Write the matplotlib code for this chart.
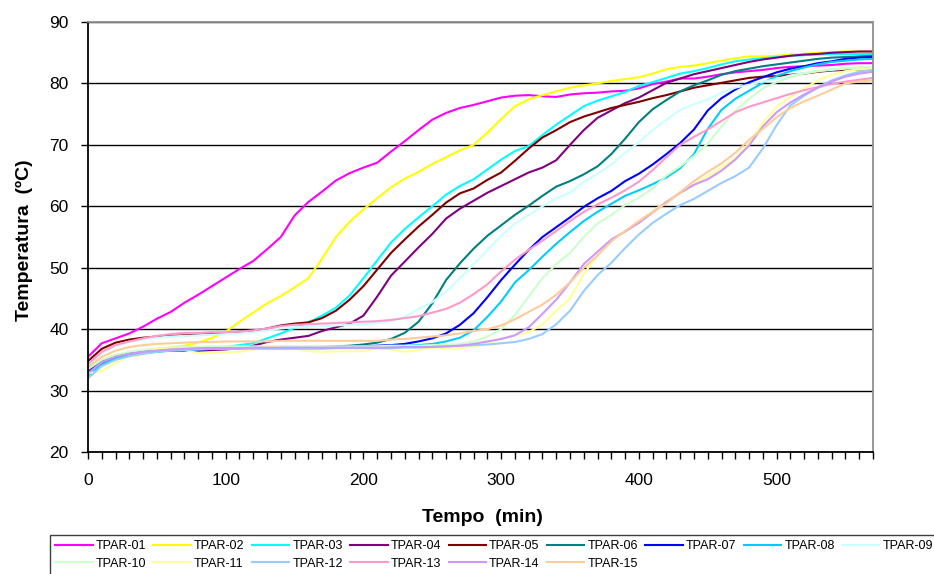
import matplotlib
matplotlib.use("Agg")
import matplotlib.pyplot as plt
from matplotlib.ticker import MultipleLocator

plt.rcParams['font.family'] = ['Liberation Sans', 'DejaVu Sans']

# Sampling times (min)
tempo = list(range(0, 571, 10))

# Temperatures (ºC) for each thermocouple, one value every 10 min
tpar01 = [35.5, 37.7, 38.5, 39.3, 40.4, 41.7, 42.8, 44.3, 45.6, 47.0,
          48.4, 49.8, 51.1, 53.0, 55.0, 58.5, 60.7, 62.4, 64.2, 65.4,
          66.3, 67.1, 68.9, 70.6, 72.4, 74.1, 75.2, 76.0, 76.5, 77.1,
          77.7, 78.0, 78.1, 77.9, 77.8, 78.2, 78.4, 78.5, 78.7, 78.8,
          79.2, 79.9, 80.3, 80.8, 80.8, 81.1, 81.5, 81.8, 82.0, 82.2,
          82.5, 82.7, 82.8, 82.9, 83.0, 83.2, 83.3, 83.3]
tpar02 = [33.5, 35.0, 35.8, 36.2, 36.5, 36.8, 37.0, 37.3, 37.8, 38.6,
          39.6, 41.2, 42.7, 44.2, 45.4, 46.8, 48.3, 51.5, 55.0, 57.5,
          59.5, 61.3, 63.1, 64.5, 65.6, 66.9, 68.0, 69.1, 70.0, 72.0,
          74.2, 76.3, 77.4, 78.1, 78.7, 79.3, 79.7, 80.0, 80.4, 80.7,
          81.0, 81.6, 82.3, 82.7, 82.9, 83.3, 83.7, 84.1, 84.4, 84.4,
          84.5, 84.7, 84.8, 85.0, 85.1, 85.2, 85.2, 85.2]
tpar03 = [32.5, 34.5, 35.5, 36.0, 36.4, 36.6, 36.7, 36.8, 36.9, 37.0,
          37.1, 37.4, 37.7, 38.5, 39.3, 40.2, 41.1, 42.2, 43.5, 45.5,
          48.3, 51.2, 54.1, 56.3, 58.2, 60.0, 61.9, 63.3, 64.4, 66.0,
          67.6, 69.0, 69.8, 71.6, 73.3, 74.8, 76.3, 77.2, 77.9, 78.6,
          79.6, 80.2, 80.9, 81.6, 82.0, 82.5, 83.1, 83.6, 83.9, 84.1,
          84.3, 84.5, 84.6, 84.7, 84.8, 84.8, 84.8, 84.8]
tpar04 = [33.2, 34.8, 35.6, 36.0, 36.3, 36.5, 36.5, 36.5, 36.5, 36.6,
          36.7, 36.9, 37.3, 37.9, 38.3, 38.6, 38.9, 39.7, 40.3, 40.9,
          42.2, 45.3, 48.7, 51.0, 53.3, 55.5, 58.0, 59.6, 60.9, 62.2,
          63.3, 64.4, 65.5, 66.3, 67.5, 70.0, 72.4, 74.4, 75.6, 76.8,
          77.7, 78.9, 80.1, 80.8, 81.5, 82.0, 82.5, 83.0, 83.5, 83.9,
          84.2, 84.5, 84.7, 84.8, 85.0, 85.1, 85.2, 85.2]
tpar05 = [34.8, 36.8, 37.8, 38.3, 38.6, 38.8, 38.9, 39.0, 39.1, 39.2,
          39.3, 39.6, 39.7, 40.1, 40.6, 40.9, 41.1, 41.8, 43.0, 44.8,
          47.0, 49.7, 52.4, 54.6, 56.7, 58.6, 60.6, 62.1, 62.9, 64.3,
          65.5, 67.4, 69.4, 71.2, 72.4, 73.7, 74.6, 75.3, 76.0, 76.5,
          77.0, 77.6, 78.1, 78.7, 79.3, 79.7, 80.1, 80.5, 80.9, 81.1,
          81.2, 81.4, 81.6, 81.9, 82.1, 82.2, 82.3, 82.3]
tpar06 = [33.0, 34.8, 35.6, 36.0, 36.3, 36.5, 36.7, 36.8, 36.9, 37.0,
          37.0, 37.0, 37.0, 37.0, 37.1, 37.1, 37.1, 37.1, 37.2, 37.3,
          37.5, 37.8, 38.4, 39.4, 41.2, 44.2, 48.0, 50.7, 53.1, 55.2,
          56.9, 58.6, 60.1, 61.7, 63.2, 64.1, 65.2, 66.5, 68.5, 71.0,
          73.7, 75.8, 77.3, 78.7, 79.7, 80.5, 81.4, 82.0, 82.4, 82.8,
          83.1, 83.4, 83.7, 84.0, 84.2, 84.3, 84.4, 84.5]
tpar07 = [33.0, 34.5, 35.4, 35.9, 36.2, 36.4, 36.5, 36.6, 36.7, 36.8,
          36.9, 36.9, 37.0, 37.0, 37.0, 37.0, 37.0, 37.0, 37.0, 37.1,
          37.2, 37.3, 37.4, 37.6, 38.0, 38.5, 39.3, 40.7, 42.6, 45.2,
          48.0, 50.5, 52.9, 55.0, 56.6, 58.2, 59.9, 61.3, 62.5, 64.1,
          65.3, 66.8, 68.5, 70.3, 72.5, 75.6, 77.6, 79.0, 80.2, 81.0,
          81.8, 82.4, 82.8, 83.3, 83.6, 84.0, 84.2, 84.3]
tpar08 = [32.2, 34.2, 35.2, 35.8, 36.1, 36.3, 36.5, 36.6, 36.7, 36.8,
          36.8, 36.9, 36.9, 37.0, 37.0, 37.0, 37.0, 37.1, 37.1, 37.1,
          37.2, 37.2, 37.3, 37.3, 37.4, 37.6, 38.0, 38.6, 39.8, 42.0,
          44.5, 47.6, 49.6, 51.8, 53.9, 55.8, 57.6, 59.1, 60.4, 61.7,
          62.6, 63.6, 64.7, 66.2, 68.5, 72.6, 75.7, 77.5, 78.8, 80.1,
          81.2, 82.0, 82.6, 83.1, 83.5, 83.7, 83.9, 84.0]
tpar09 = [34.0, 36.0, 37.2, 37.9, 38.3, 38.6, 38.8, 38.9, 39.0, 39.1,
          39.2, 39.3, 39.5, 39.8, 40.1, 40.3, 40.4, 40.5, 40.6, 40.7,
          40.8, 41.0, 41.3, 42.0, 43.3, 44.4, 46.1, 48.3, 50.6, 52.9,
          55.2, 57.2, 58.6, 60.0, 61.3, 62.2, 64.0, 65.3, 66.8, 68.7,
          70.4, 72.4, 74.1, 75.7, 76.6, 77.4, 78.5, 79.3, 79.8, 80.3,
          80.7, 81.3, 81.7, 82.0, 82.2, 82.4, 82.5, 82.6]
tpar10 = [33.5, 35.0, 35.8, 36.3, 36.6, 36.8, 37.0, 37.1, 37.1, 37.2,
          37.2, 37.2, 37.2, 37.2, 37.2, 37.2, 37.2, 37.2, 37.2, 37.2,
          37.2, 37.2, 37.3, 37.3, 37.3, 37.4, 37.4, 37.6, 38.0, 38.8,
          40.0, 42.3, 45.3, 48.3, 50.6, 52.4, 55.0, 57.2, 58.6, 60.2,
          61.4, 62.9, 65.0, 66.5, 68.2, 70.2, 73.0, 75.5, 77.5, 79.2,
          80.2, 81.0, 81.6, 82.0, 82.3, 82.5, 82.6, 82.7]
tpar11 = [32.8, 33.2, 34.5, 35.6, 35.8, 36.8, 36.9, 36.6, 36.1, 36.1,
          36.2, 36.3, 36.7, 37.2, 37.0, 36.8, 36.4, 36.3, 36.4, 36.4,
          36.4, 36.9, 36.7, 36.3, 36.6, 37.0, 36.9, 36.9, 37.2, 37.6,
          38.4, 39.0, 39.5, 40.8, 43.0, 45.0, 49.0, 52.0, 54.5, 55.9,
          57.5, 59.2, 60.8, 62.1, 63.5, 64.9, 66.3, 67.8, 70.3, 73.6,
          76.2, 77.8, 79.2, 80.5, 81.4, 82.0, 82.3, 82.4]
tpar12 = [32.0, 34.0, 35.0, 35.6, 36.0, 36.3, 36.5, 36.6, 36.7, 36.8,
          36.8, 36.8, 36.8, 36.8, 36.8, 36.8, 36.8, 36.8, 36.9, 36.9,
          36.9, 36.9, 36.9, 37.0, 37.0, 37.1, 37.2, 37.3, 37.4, 37.5,
          37.7, 37.9, 38.4, 39.2, 40.8, 43.0, 46.2, 48.8, 50.8, 53.2,
          55.4, 57.3, 58.8, 60.2, 61.2, 62.5, 63.8, 64.9, 66.3, 69.4,
          73.2, 76.4, 78.0, 79.4, 80.5, 81.3, 81.9, 82.2]
tpar13 = [34.3, 36.3, 37.4, 38.0, 38.5, 38.9, 39.2, 39.4, 39.4, 39.5,
          39.5, 39.6, 39.8, 40.1, 40.5, 40.7, 40.8, 40.9, 41.0, 41.1,
          41.2, 41.3, 41.5, 41.8, 42.1, 42.7, 43.3, 44.3, 45.7, 47.3,
          49.4, 51.3, 52.9, 54.4, 56.0, 57.6, 59.1, 60.3, 61.4, 62.6,
          64.0, 65.9, 68.0, 70.0, 71.3, 72.5, 73.9, 75.3, 76.2, 76.9,
          77.6, 78.3, 78.9, 79.4, 79.9, 80.3, 80.6, 80.9]
tpar14 = [32.8, 34.6, 35.5, 36.0, 36.3, 36.5, 36.7, 36.8, 36.9, 36.9,
          36.9, 36.9, 37.0, 37.0, 37.0, 37.0, 37.0, 37.0, 37.0, 37.0,
          37.0, 37.0, 37.0, 37.1, 37.1, 37.1, 37.2, 37.3, 37.6, 38.0,
          38.4, 39.0, 40.3, 42.5, 44.8, 47.6, 50.6, 52.6, 54.6, 55.9,
          57.3, 59.0, 60.7, 62.2, 63.5, 64.4, 65.8, 67.6, 69.9, 73.0,
          75.3, 76.9, 78.2, 79.3, 80.3, 81.1, 81.6, 81.9]
tpar15 = [33.8, 35.5, 36.5, 37.1, 37.4, 37.6, 37.7, 37.8, 37.9, 37.9,
          38.0, 38.0, 38.0, 38.0, 38.1, 38.1, 38.1, 38.1, 38.1, 38.1,
          38.1, 38.1, 38.3, 38.4, 38.6, 38.8, 39.0, 39.3, 39.7, 40.0,
          40.6, 41.6, 42.8, 44.0, 45.6, 47.6, 50.0, 52.0, 54.3, 56.0,
          57.6, 59.1, 60.5, 62.3, 64.1, 65.6, 67.0, 68.7, 70.8, 72.6,
          74.5, 76.0, 77.1, 78.0, 79.0, 80.0, 80.3, 80.5]

nomes = ['TPAR-01', 'TPAR-02', 'TPAR-03', 'TPAR-04', 'TPAR-05',
         'TPAR-06', 'TPAR-07', 'TPAR-08', 'TPAR-09', 'TPAR-10',
         'TPAR-11', 'TPAR-12', 'TPAR-13', 'TPAR-14', 'TPAR-15']
series = [tpar01, tpar02, tpar03, tpar04, tpar05, tpar06, tpar07, tpar08,
          tpar09, tpar10, tpar11, tpar12, tpar13, tpar14, tpar15]
cores = ['#FF00FF', '#FFFF00', '#00FFFF', '#800080', '#800000',
         '#008080', '#0000FF', '#00CCFF', '#CCFFFF', '#CCFFCC',
         '#FFFF99', '#99CCFF', '#FF99CC', '#CC99FF', '#FFCC99']

W, H = 934, 574
fig = plt.figure(figsize=(W / 100, H / 100), dpi=100)
ax = fig.add_axes([88 / W, 1 - 452 / H, (873 - 88) / W, (452 - 22) / H])

linhas = {}
for nome, valores, cor in zip(nomes, series, cores):
    linhas[nome], = ax.plot(tempo, valores, color=cor, lw=1.5,
                            solid_joinstyle='round', label=nome)

ax.set_xlim(0, 570)
ax.set_ylim(20, 90)
ax.yaxis.set_major_locator(MultipleLocator(10))
ax.xaxis.set_major_locator(MultipleLocator(100))
ax.xaxis.set_minor_locator(MultipleLocator(10))
ax.grid(axis='y', color='black', lw=1.0)
ax.set_axisbelow(True)

ax.tick_params(axis='both', which='both', direction='out', length=5,
               width=1, color='black', labelsize=12.5)
ax.tick_params(axis='y', pad=9)
ax.tick_params(axis='x', pad=10)
ax.tick_params(right=False, top=False)

for lado in ('left', 'bottom'):
    ax.spines[lado].set_color('black')
    ax.spines[lado].set_linewidth(1.3)
for lado in ('top', 'right'):
    ax.spines[lado].set_color('#909090')
    ax.spines[lado].set_linewidth(1.3)

fig.text(482 / W, 1 - 518 / H, 'Tempo  (min)', ha='center', va='center',
         fontsize=14, fontweight='bold')
fig.text(24 / W, 1 - 240 / H, 'Temperatura  (ºC)', ha='center', va='center',
         rotation=90, fontsize=14, fontweight='bold')

# Legend laid out row by row: 9 entries on the first row, 6 on the second
ordem = ['TPAR-01', 'TPAR-10', 'TPAR-02', 'TPAR-11', 'TPAR-03', 'TPAR-12',
         'TPAR-04', 'TPAR-13', 'TPAR-05', 'TPAR-14', 'TPAR-06', 'TPAR-15',
         'TPAR-07', 'TPAR-08', 'TPAR-09']
leg = fig.legend([linhas[n] for n in ordem], ordem, ncol=9,
                 loc='upper left', bbox_to_anchor=(50 / W, 1 - 535 / H),
                 bbox_transform=fig.transFigure, borderaxespad=0,
                 fontsize=9, handlelength=3.0, handletextpad=0.25,
                 columnspacing=0.58, labelspacing=0.45, borderpad=0.4,
                 frameon=True, fancybox=False, framealpha=1)
leg.get_frame().set_edgecolor('#404040')
leg.get_frame().set_linewidth(1.0)

fig.savefig('out.png', dpi=100)
